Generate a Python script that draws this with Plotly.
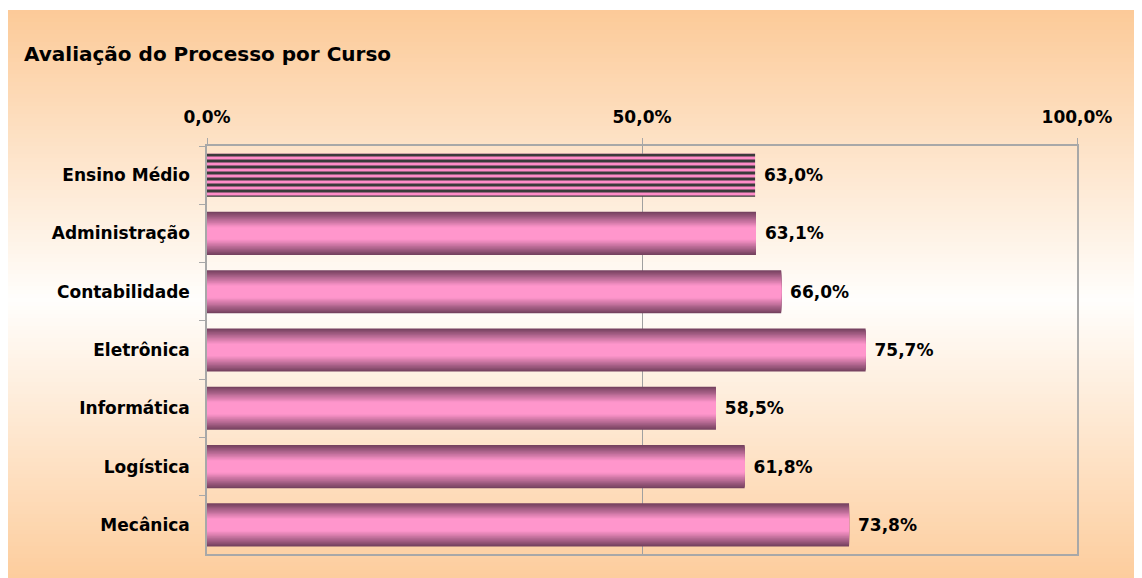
import plotly.graph_objects as go

categories = ["Ensino Médio", "Administração", "Contabilidade", "Eletrônica",
              "Informática", "Logística", "Mecânica"]
values = [0.630, 0.631, 0.660, 0.757, 0.585, 0.618, 0.738]
x_ticks = [0.0, 0.5, 1.0]
title_text = "Avaliação do Processo por Curso"

# page offset (browser body margin) compensation
OFF = 8
W, H = 1142 - OFF, 578 - OFF
L, R, T, B = 207 - OFF, 65, 146 - OFF, 24
FONT = "DejaVu Sans"

def xp(px):  # screen px -> paper x
    return (px - OFF - L) / (W - L - R)

def yp(py):  # screen py -> paper y
    return (H - B - (py - OFF)) / (H - T - B)

def mix(c1, c2, f):
    return "rgb(%d,%d,%d)" % tuple(round(a + (b - a) * f) for a, b in zip(c1, c2))

fig = go.Figure()

# background gradient (peach -> white -> peach)
peach_top = (252, 202, 152)
peach_bot = (253, 205, 157)
white = (255, 254, 252)
y0, y1, ymid = 10, 578, 300
step = 4
shapes = []
py = y0
while py < y1:
    c = py + step / 2
    if c < ymid:
        f = (c - y0) / (ymid - y0)
        col = mix(peach_top, white, f)
    else:
        f = (c - ymid) / (y1 - ymid)
        col = mix(white, peach_bot, f)
    shapes.append(dict(type="rect", xref="paper", yref="paper", layer="below",
                       x0=xp(7), x1=xp(1142), y0=yp(min(py + step, y1)), y1=yp(py),
                       fillcolor=col, line=dict(width=0)))
    py += step

# gradient bars (layered)
dark = (118, 66, 96)
pink = (255, 150, 204)
bw = 0.74
N = 18
cats_g = categories[1:]
vals_g = values[1:]
label_font = dict(family=FONT, size=17, color="#000000", weight="bold")
for i in range(N):
    w = bw * (1 - i / N)
    t = w / bw
    if t <= 0.3:
        col = mix(pink, pink, 0)
    else:
        col = mix(pink, dark, ((t - 0.3) / 0.7) ** 1.0)
    fig.add_trace(go.Bar(
        y=cats_g, x=vals_g, orientation="h", width=w,
        marker=dict(color=col, line=dict(width=0)),
        hoverinfo="skip", showlegend=False,
        texttemplate=" %{x:.1%}" if i == 0 else None,
        textposition="outside" if i == 0 else "none",
        textfont=label_font,
        cliponaxis=False,
    ))

# striped bar (Ensino Médio)
fig.add_trace(go.Bar(
    y=categories[:1], x=values[:1], orientation="h", width=bw,
    marker=dict(color="#FF8CC8", line=dict(width=0),
                pattern=dict(shape="-", fgcolor="#3A3A3A", bgcolor="#FF8CC8",
                             size=6, solidity=0.5, fillmode="replace")),
    texttemplate=" %{x:.1%}", textposition="outside",
    textfont=label_font,
    hoverinfo="skip", showlegend=False, cliponaxis=False,
))

fig.update_layout(
    width=W, height=H,
    margin=dict(l=L, r=R, t=T, b=B),
    paper_bgcolor="white",
    plot_bgcolor="rgba(0,0,0,0)",
    barmode="overlay",
    separators=",.",
    shapes=shapes,
    font=dict(family=FONT, color="#000000"),
    annotations=[dict(text="<b>" + title_text + "</b>", xref="paper", yref="paper",
                      x=xp(22), y=yp(54), xanchor="left", yanchor="middle",
                      showarrow=False, font=dict(family=FONT, size=20, color="#000000"))],
    xaxis=dict(side="top", range=[0, 1], tickvals=x_ticks, tickformat=".1%",
               showgrid=True, gridcolor="#A0A0A0", gridwidth=1,
               showline=True, linecolor="#A8A8A8", linewidth=1.5, mirror=True,
               ticks="outside", ticklen=6, tickcolor="#A8A8A8",
               ticklabelstandoff=8,
               tickfont=dict(family=FONT, size=17, color="#000000", weight="bold"),
               zeroline=False, fixedrange=True),
    yaxis=dict(categoryorder="array", categoryarray=categories, autorange="reversed",
               tickson="boundaries", ticks="outside", ticklen=6, tickcolor="#A8A8A8",
               showline=True, linecolor="#A8A8A8", linewidth=1.5, mirror=True,
               showgrid=False, ticklabelstandoff=12,
               tickfont=dict(family=FONT, size=17, color="#000000", weight="bold"),
               fixedrange=True),
)

fig.write_html("out.html")
